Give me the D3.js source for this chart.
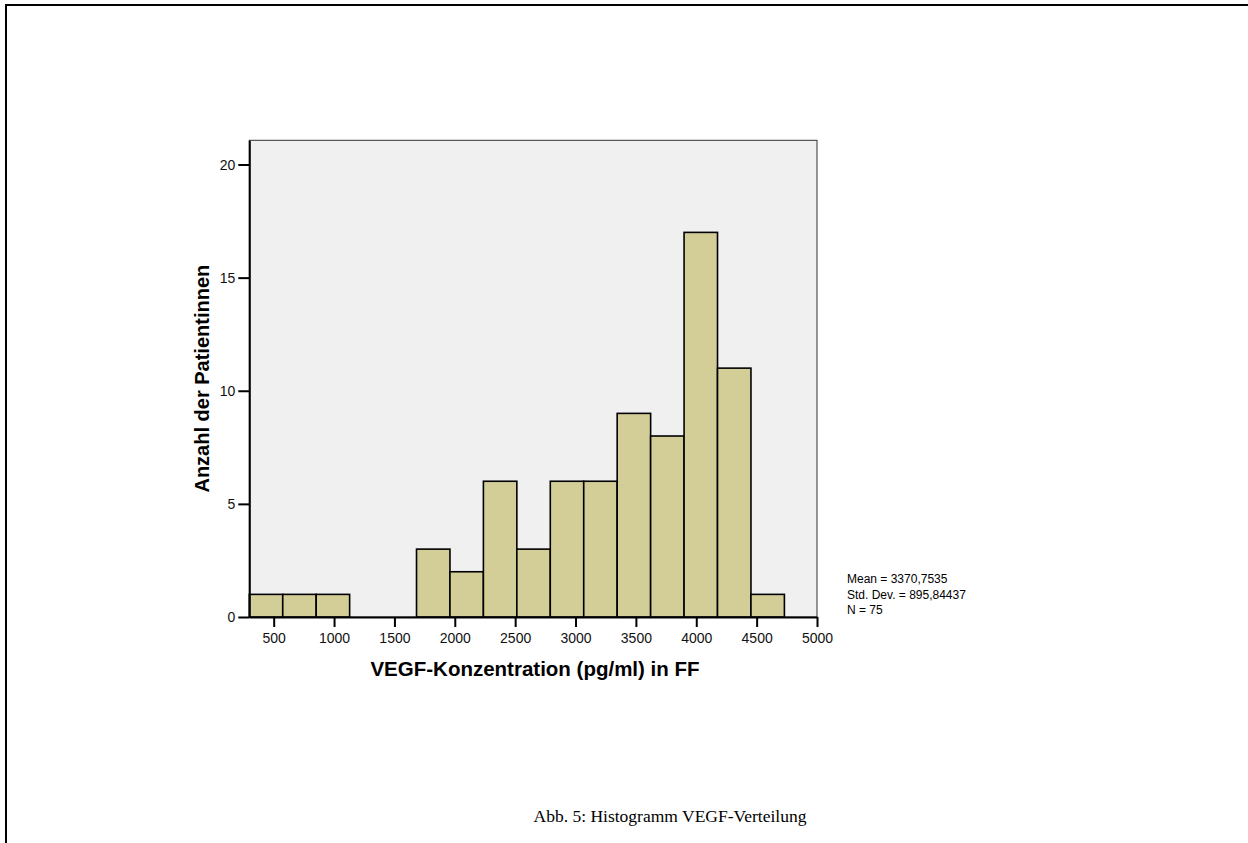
<!DOCTYPE html>
<html>
<head>
<meta charset="utf-8">
<script src="https://cdn.jsdelivr.net/npm/d3@7"></script>
<style>
  html, body { margin: 0; padding: 0; background: #fff; }
  svg { display: block; }
</style>
</head>
<body>
<div id="chart"></div>
<script>
// histogram bins (lower edges, pg/ml) and counts
const binStarts = [298, 575, 852, 1129, 1406, 1683, 1960, 2237, 2514, 2791, 3068, 3345, 3622, 3899, 4176, 4453];
const binWidth = 277;
const counts = [1, 1, 1, 0, 0, 3, 2, 6, 3, 6, 6, 9, 8, 17, 11, 1];
const xTicks = [500, 1000, 1500, 2000, 2500, 3000, 3500, 4000, 4500, 5000];
const yTicks = [0, 5, 10, 15, 20];
const statsLines = ["Mean = 3370,7535", "Std. Dev. = 895,84437", "N = 75"];

const width = 1248, height = 843;
const plot = { left: 249.3, right: 817, top: 140.3, bottom: 617 };
const sans = 'Liberation Sans, Arial, sans-serif';

const svg = d3.select('#chart').append('svg')
    .attr('width', width)
    .attr('height', height);

// page border (top + left)
svg.append('path')
    .attr('d', `M6,${height} L6,5 L${width},5`)
    .attr('fill', 'none')
    .attr('stroke', '#000')
    .attr('stroke-width', 2);

const x = d3.scaleLinear().domain([298, 5000]).range([plot.left, plot.right]);
const y = d3.scaleLinear().domain([0, 21.07]).range([plot.bottom, plot.top]);

svg.append('rect')
    .attr('x', plot.left)
    .attr('y', plot.top)
    .attr('width', plot.right - plot.left)
    .attr('height', plot.bottom - plot.top)
    .attr('fill', '#f0f0f0')
    .attr('stroke', '#333')
    .attr('stroke-width', 1);

const bins = binStarts.map((s, i) => ({ x0: s, x1: s + binWidth, n: counts[i] }));

svg.append('g').selectAll('rect')
    .data(bins.filter(d => d.n > 0))
    .join('rect')
    .attr('x', d => x(d.x0))
    .attr('y', d => y(d.n))
    .attr('width', d => x(d.x1) - x(d.x0))
    .attr('height', d => y(0) - y(d.n))
    .attr('fill', '#d3ce97')
    .attr('stroke', '#000')
    .attr('stroke-width', 1.6);

const xAxis = svg.append('g')
    .attr('transform', `translate(0,${plot.bottom})`)
    .call(d3.axisBottom(x).tickValues(xTicks).tickFormat(d3.format('d'))
        .tickSize(10).tickPadding(6).tickSizeOuter(0));
const yAxis = svg.append('g')
    .attr('transform', `translate(${plot.left},0)`)
    .call(d3.axisLeft(y).tickValues(yTicks).tickFormat(d3.format('d'))
        .tickSize(11).tickPadding(3).tickSizeOuter(0));

[xAxis, yAxis].forEach(g => {
    g.select('.domain').attr('stroke', '#000').attr('stroke-width', 2);
    g.selectAll('.tick line').attr('stroke', '#000').attr('stroke-width', 2);
    g.selectAll('.tick text')
        .attr('fill', '#111')
        .style('font-family', sans)
        .style('font-size', '14px');
});
yAxis.selectAll('.tick text').attr('dy', '0.35em');

svg.append('text')
    .attr('x', 535)
    .attr('y', 676)
    .attr('text-anchor', 'middle')
    .style('font-family', sans)
    .style('font-weight', 'bold')
    .style('font-size', '20.5px')
    .text('VEGF-Konzentration (pg/ml) in FF');

svg.append('text')
    .attr('transform', `translate(209,${(plot.top + plot.bottom) / 2}) rotate(-90)`)
    .attr('text-anchor', 'middle')
    .style('font-family', sans)
    .style('font-weight', 'bold')
    .style('font-size', '20px')
    .text('Anzahl der Patientinnen');

svg.append('g').selectAll('text')
    .data(statsLines)
    .join('text')
    .attr('x', 847)
    .attr('y', (d, i) => 583 + i * 15.5)
    .style('font-family', sans)
    .style('font-size', '12px')
    .text(d => d);

svg.append('text')
    .attr('x', 670)
    .attr('y', 822)
    .attr('text-anchor', 'middle')
    .style('font-family', 'Liberation Serif, Times New Roman, serif')
    .style('font-size', '17.5px')
    .text('Abb. 5: Histogramm VEGF-Verteilung');
</script>
</body>
</html>
